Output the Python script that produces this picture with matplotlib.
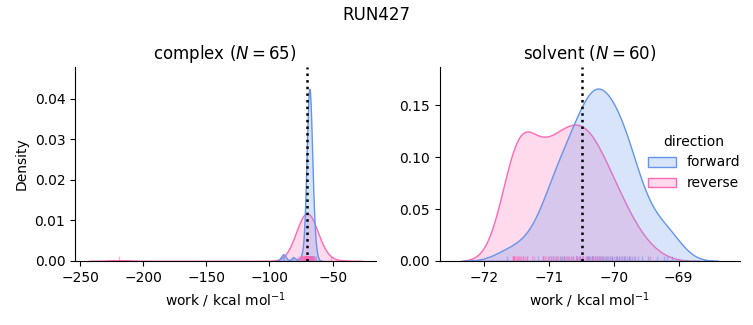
import numpy as np
import pandas as pd
import matplotlib
matplotlib.use("Agg")
import matplotlib.pyplot as plt
import seaborn as sns

phases = ["complex", "solvent"]
n_cycles = [65, 60]
estimates = [-70.4, -70.49]
directions = ["forward", "reverse"]
palette = {"forward": "cornflowerblue", "reverse": "hotpink"}
x_limits = [(-254.0, -16.0), (-72.68, -68.05)]
y_limits = [(0.0, 0.0479), (0.0, 0.187)]

complex_forward = [
    -89.6, -88.4, -81.0,
    -74.5, -71.4, -71.0, -70.7, -70.5, -70.3, -70.1, -69.9, -69.8, -69.7,
    -69.6, -69.5, -69.4, -69.3, -69.2, -69.1, -69.05, -69.0, -68.95, -68.9,
    -68.85, -68.8, -68.75, -68.7, -68.65, -68.6, -68.55, -68.5, -68.45, -68.4,
    -68.35, -68.3, -68.25, -68.2, -68.15, -68.1, -68.05, -68.0, -67.95, -67.9,
    -67.8, -67.7, -67.6, -67.5, -67.4, -67.3, -67.2, -67.1, -67.0, -66.9,
    -66.8, -66.6, -66.4, -66.2, -66.0, -65.7, -65.4, -65.0, -63.5, -68.6,
    -68.3, -69.2,
]
complex_reverse = [
    -218.8, -51.0,
    -77.5, -76.2, -75.4, -74.8, -74.3, -73.9, -73.5, -73.2, -72.9, -72.6,
    -72.4, -72.2, -72.0, -71.8, -71.6, -71.45, -71.3, -71.15, -71.0, -70.9,
    -70.8, -70.7, -70.6, -70.5, -70.4, -70.3, -70.2, -70.1, -70.0, -69.9,
    -69.8, -69.7, -69.6, -69.5, -69.4, -69.3, -69.2, -69.05, -68.9, -68.75,
    -68.6, -68.4, -68.2, -68.0, -67.8, -67.5, -67.2, -66.9, -66.5, -66.0,
    -65.5, -64.8, -64.0, -71.2, -70.65, -70.35, -69.95, -70.55, -71.7, -69.65,
    -70.25, -72.8, -68.5,
]
solvent_forward = [
    -71.64, -71.40, -71.16, -71.08, -70.99, -70.96, -70.94, -70.87, -70.83, -70.80,
    -70.77, -70.77, -70.71, -70.66, -70.63, -70.58, -70.57, -70.53, -70.52, -70.47,
    -70.43, -70.40, -70.40, -70.38, -70.37, -70.34, -70.34, -70.32, -70.28, -70.26,
    -70.25, -70.23, -70.21, -70.18, -70.16, -70.13, -70.11, -70.08, -70.06, -70.02,
    -70.02, -69.97, -69.95, -69.92, -69.91, -69.87, -69.84, -69.82, -69.80, -69.77,
    -69.75, -69.71, -69.67, -69.63, -69.57, -69.47, -69.33, -69.22, -69.17, -69.10,
]
solvent_reverse = [
    -71.55, -71.55, -71.55, -71.53, -71.53, -71.53, -71.51, -71.49, -71.48, -71.46,
    -71.44, -71.43, -71.40, -71.36, -71.34, -71.33, -71.25, -71.23, -71.09, -71.08,
    -71.06, -71.04, -71.01, -70.97, -70.94, -70.91, -70.88, -70.85, -70.81, -70.76,
    -70.74, -70.72, -70.69, -70.66, -70.63, -70.58, -70.56, -70.56, -70.51, -70.48,
    -70.47, -70.42, -70.41, -70.39, -70.34, -70.31, -70.29, -70.26, -70.22, -70.19,
    -70.17, -70.10, -70.06, -70.00, -69.97, -69.89, -69.84, -69.77, -69.68, -69.44,
]

series = {
    ("complex", "forward"): complex_forward,
    ("complex", "reverse"): complex_reverse,
    ("solvent", "forward"): solvent_forward,
    ("solvent", "reverse"): solvent_reverse,
}
frames = []
for (phase, direction), values in series.items():
    frames.append(pd.DataFrame({"work": values, "phase": phase, "direction": direction}))
df = pd.concat(frames, ignore_index=True)

g = sns.displot(
    df, x="work", hue="direction", col="phase", kind="kde", fill=True,
    rug=True, rug_kws=dict(alpha=0.5), palette=palette,
    hue_order=directions, col_order=phases,
    facet_kws=dict(sharex=False, sharey=False), height=3.25, aspect=1.0,
)
fig = g.figure
fig.set_size_inches(7.53, 3.25)
fig.subplots_adjust(left=0.0996, right=0.983, bottom=0.197, top=0.794, wspace=0.213)
g.set_axis_labels("work / kcal mol$^{-1}$", "Density")
for ax, phase, n, est, xl, yl in zip(g.axes.flat, phases, n_cycles, estimates, x_limits, y_limits):
    ax.set_title(f"{phase} ($N = {n}$)")
    ax.axvline(est, color="black", ls=":", lw=1.8)
    ax.set_xlim(*xl)
    ax.set_ylim(*yl)
fig.suptitle("RUN427")
fig.savefig("out.png", dpi=100)
